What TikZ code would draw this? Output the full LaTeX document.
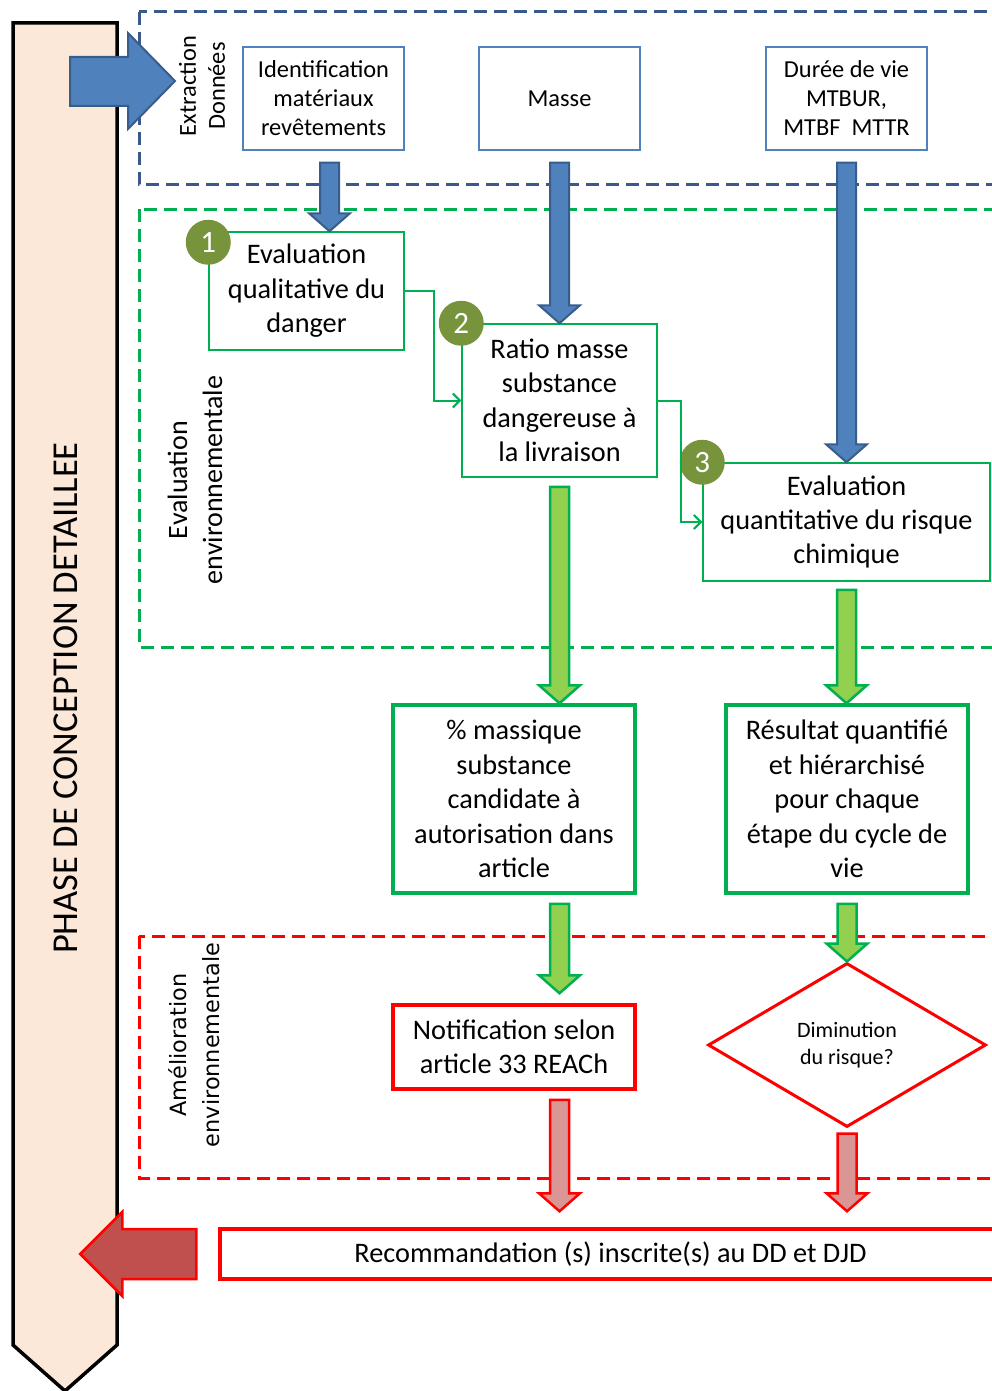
\documentclass[tikz,border=0pt]{standalone}
\usepackage{fontspec}
\setmainfont{Carlito}
\newfontfamily\verdfont{DejaVu Sans}
\usetikzlibrary{arrows.meta,calc,shapes.geometric}

\definecolor{phasebg}{RGB}{252,232,217}
\definecolor{frameblue}{RGB}{59,88,138}
\definecolor{boxblue}{RGB}{79,129,189}
\definecolor{arrowblue}{RGB}{79,129,189}
\definecolor{arrowblueline}{RGB}{56,93,138}
\definecolor{okgreen}{RGB}{0,176,80}
\definecolor{dotgreen}{RGB}{119,147,60}
\definecolor{arrowgreen}{RGB}{146,208,80}
\definecolor{arrowpink}{RGB}{217,150,148}
\definecolor{arrowdark}{RGB}{192,80,77}

\newcommand{\smalltxt}{\fontsize{24.4}{29}\selectfont}
\newcommand{\bigtxt}{\fontsize{28.3}{34.4}\selectfont}

% fleche epaisse vers le bas : style, depart, pointe
\newcommand{\fatdown}[3]{%
  \draw[#1] let \p1=(#2), \p2=(#3) in
    (\x1-9.5pt,\y1) -- (\x1+9.5pt,\y1) -- (\x1+9.5pt,\y2+18pt) -- (\x1+20.5pt,\y2+18pt)
    -- (\x1,\y2) -- (\x1-20.5pt,\y2+18pt) -- (\x1-9.5pt,\y2+18pt) -- cycle;}

\begin{document}
\begin{tikzpicture}[x=1pt, y=-1pt, line join=miter,
  frame/.style={dash pattern=on 13pt off 7pt, line width=3pt},
  thinbox/.style={draw=#1, line width=1.5pt, inner sep=0pt, align=center},
  thickbox/.style={draw=#1, line width=3.5pt, inner sep=0pt, align=center, font=\bigtxt},
  numdot/.style={circle, fill=dotgreen, minimum size=45pt, inner sep=0pt, text=white,
    font=\fontsize{31}{31}\selectfont},
  bluearrow/.style={fill=arrowblue, draw=arrowblueline, line width=2pt},
  greenarrow/.style={fill=arrowgreen, draw=okgreen, line width=2.5pt},
  redarrow/.style={fill=arrowpink, draw=red, line width=2.5pt},
  link/.style={draw=okgreen, line width=2pt, -{Straight Barb[length=7pt,width=14pt]}},
  sidelabel/.style={rotate=90, align=center}]
  \useasboundingbox (0,0) rectangle (992,1391);

  % bandeau de phase
  \draw[fill=phasebg, line width=3.5pt] (13,23) -- (117,23) -- (117,1345) -- (65,1391) -- (13,1345) -- cycle;
  \node[rotate=90, font=\fontsize{36.5}{36.5}\selectfont] (phase) at (66,698) {PHASE DE CONCEPTION DETAILLEE};

  % cadres pointilles
  \draw[frame, frameblue] (139,12) rectangle (1010,185);
  \draw[frame, okgreen] (139,209) rectangle (1010,647);
  \draw[frame, red] (139,936) rectangle (1010,1178);

  % titres des cadres
  \node[sidelabel, font=\smalltxt] (extr) at (202,86) {Extraction\\Données};
  \node[sidelabel, font=\fontsize{28}{35}\selectfont] (evalenv) at (195,480) {Evaluation\\environnementale};
  \node[sidelabel, font=\verdfont\fontsize{22.4}{33}\selectfont] (amelenv) at (194,1045) {Amélioration\\environnementale};

  % fleche d'extraction
  \draw[bluearrow] (70,57) -- (128,57) -- (128,33) -- (175,81) -- (128,129) -- (128,106) -- (70,106) -- cycle;

  % donnees d'entree
  \node[thinbox=boxblue, minimum width=161pt, minimum height=103pt, font=\smalltxt] (ident) at (323.5,98.5) {Identification\\matériaux\\revêtements};
  \node[thinbox=boxblue, minimum width=161pt, minimum height=103pt, font=\smalltxt] (masse) at (559.5,98.5) {Masse};
  \node[thinbox=boxblue, minimum width=161pt, minimum height=103pt, font=\smalltxt] (duree) at (846.5,98.5) {Durée de vie\\MTBUR,\\MTBF\ \ MTTR};

  % etapes d'evaluation
  \node[thinbox=okgreen, minimum width=195pt, minimum height=118pt, font=\bigtxt] (danger) at (306.5,291) {Evaluation\\qualitative du\\danger};
  \node[thinbox=okgreen, minimum width=195pt, minimum height=153pt, font=\bigtxt] (ratio) at (559.5,400.5) {Ratio masse\\substance\\dangereuse à\\la livraison};
  \node[thinbox=okgreen, minimum width=287pt, minimum height=118pt, font=\bigtxt] (quant) at (846.5,522) {Evaluation\\quantitative du risque\\chimique};
  \node[numdot] (n1) at ($(danger.north west)+(0,11)$) {1};
  \node[numdot] (n2) at (ratio.north west) {2};
  \node[numdot] (n3) at (quant.north west) {3};

  % liens entre etapes
  \draw[link] (danger.east) -- ++(29,0) |- (ratio.west);
  \draw[link] (ratio.east) -- ++(23,0) |- (quant.west);

  % resultats
  \node[thickbox=okgreen, minimum width=242pt, minimum height=188pt] (pct) at (514,799) {\% massique\\substance\\candidate à\\autorisation dans\\article};
  \node[thickbox=okgreen, minimum width=242pt, minimum height=188pt] (res) at (847,799) {Résultat quantifié\\et hiérarchisé\\pour chaque\\étape du cycle de\\vie};

  % amelioration
  \node[thickbox=red, minimum width=242pt, minimum height=84pt] (notif) at (514,1047) {Notification selon\\article 33 REACh};
  \node[diamond, aspect=1.7, draw=red, line width=3pt, minimum width=278pt, minimum height=164pt, inner sep=0pt,
    align=center, font=\fontsize{22}{27}\selectfont] (risk) at (847,1045) {Diminution\\du risque?};
  \node[thickbox=red, minimum width=781pt, minimum height=50pt] (reco) at (610.5,1254) {Recommandation (s) inscrite(s) au DD et DJD};

  % fleches bleues
  \fatdown{bluearrow}{$(ident.south)+(6,12)$}{ident.south |- danger.north}
  \fatdown{bluearrow}{$(masse.south)+(0,12)$}{masse.south |- ratio.north}
  \fatdown{bluearrow}{$(duree.south)+(0,12)$}{duree.south |- quant.north}

  % fleches vertes
  \fatdown{greenarrow}{$(ratio.south)+(0,9)$}{ratio.south |- pct.north}
  \fatdown{greenarrow}{$(quant.south)+(0,8)$}{quant.south |- res.north}
  \fatdown{greenarrow}{$(ratio.south |- pct.south)+(0,9)$}{$(ratio.south |- notif.north)+(0,-10)$}
  \fatdown{greenarrow}{$(res.south)+(0,9)$}{res.south |- risk.north}

  % fleches rouges
  \fatdown{redarrow}{$(ratio.south |- notif.south)+(0,9)$}{$(ratio.south |- reco.north)+(0,-16)$}
  \fatdown{redarrow}{$(risk.south)+(0,5)$}{$(risk.south |- reco.north)+(0,-16)$}

  % retour vers la phase
  \draw[redarrow, fill=arrowdark] let \p1=(reco.west) in
    (\x1-22pt,\y1+25pt) -- (\x1-96pt,\y1+25pt) -- (\x1-96pt,\y1+42pt) -- (\x1-138pt,\y1)
    -- (\x1-96pt,\y1-42pt) -- (\x1-96pt,\y1-25pt) -- (\x1-22pt,\y1-25pt) -- cycle;
\end{tikzpicture}
\end{document}
